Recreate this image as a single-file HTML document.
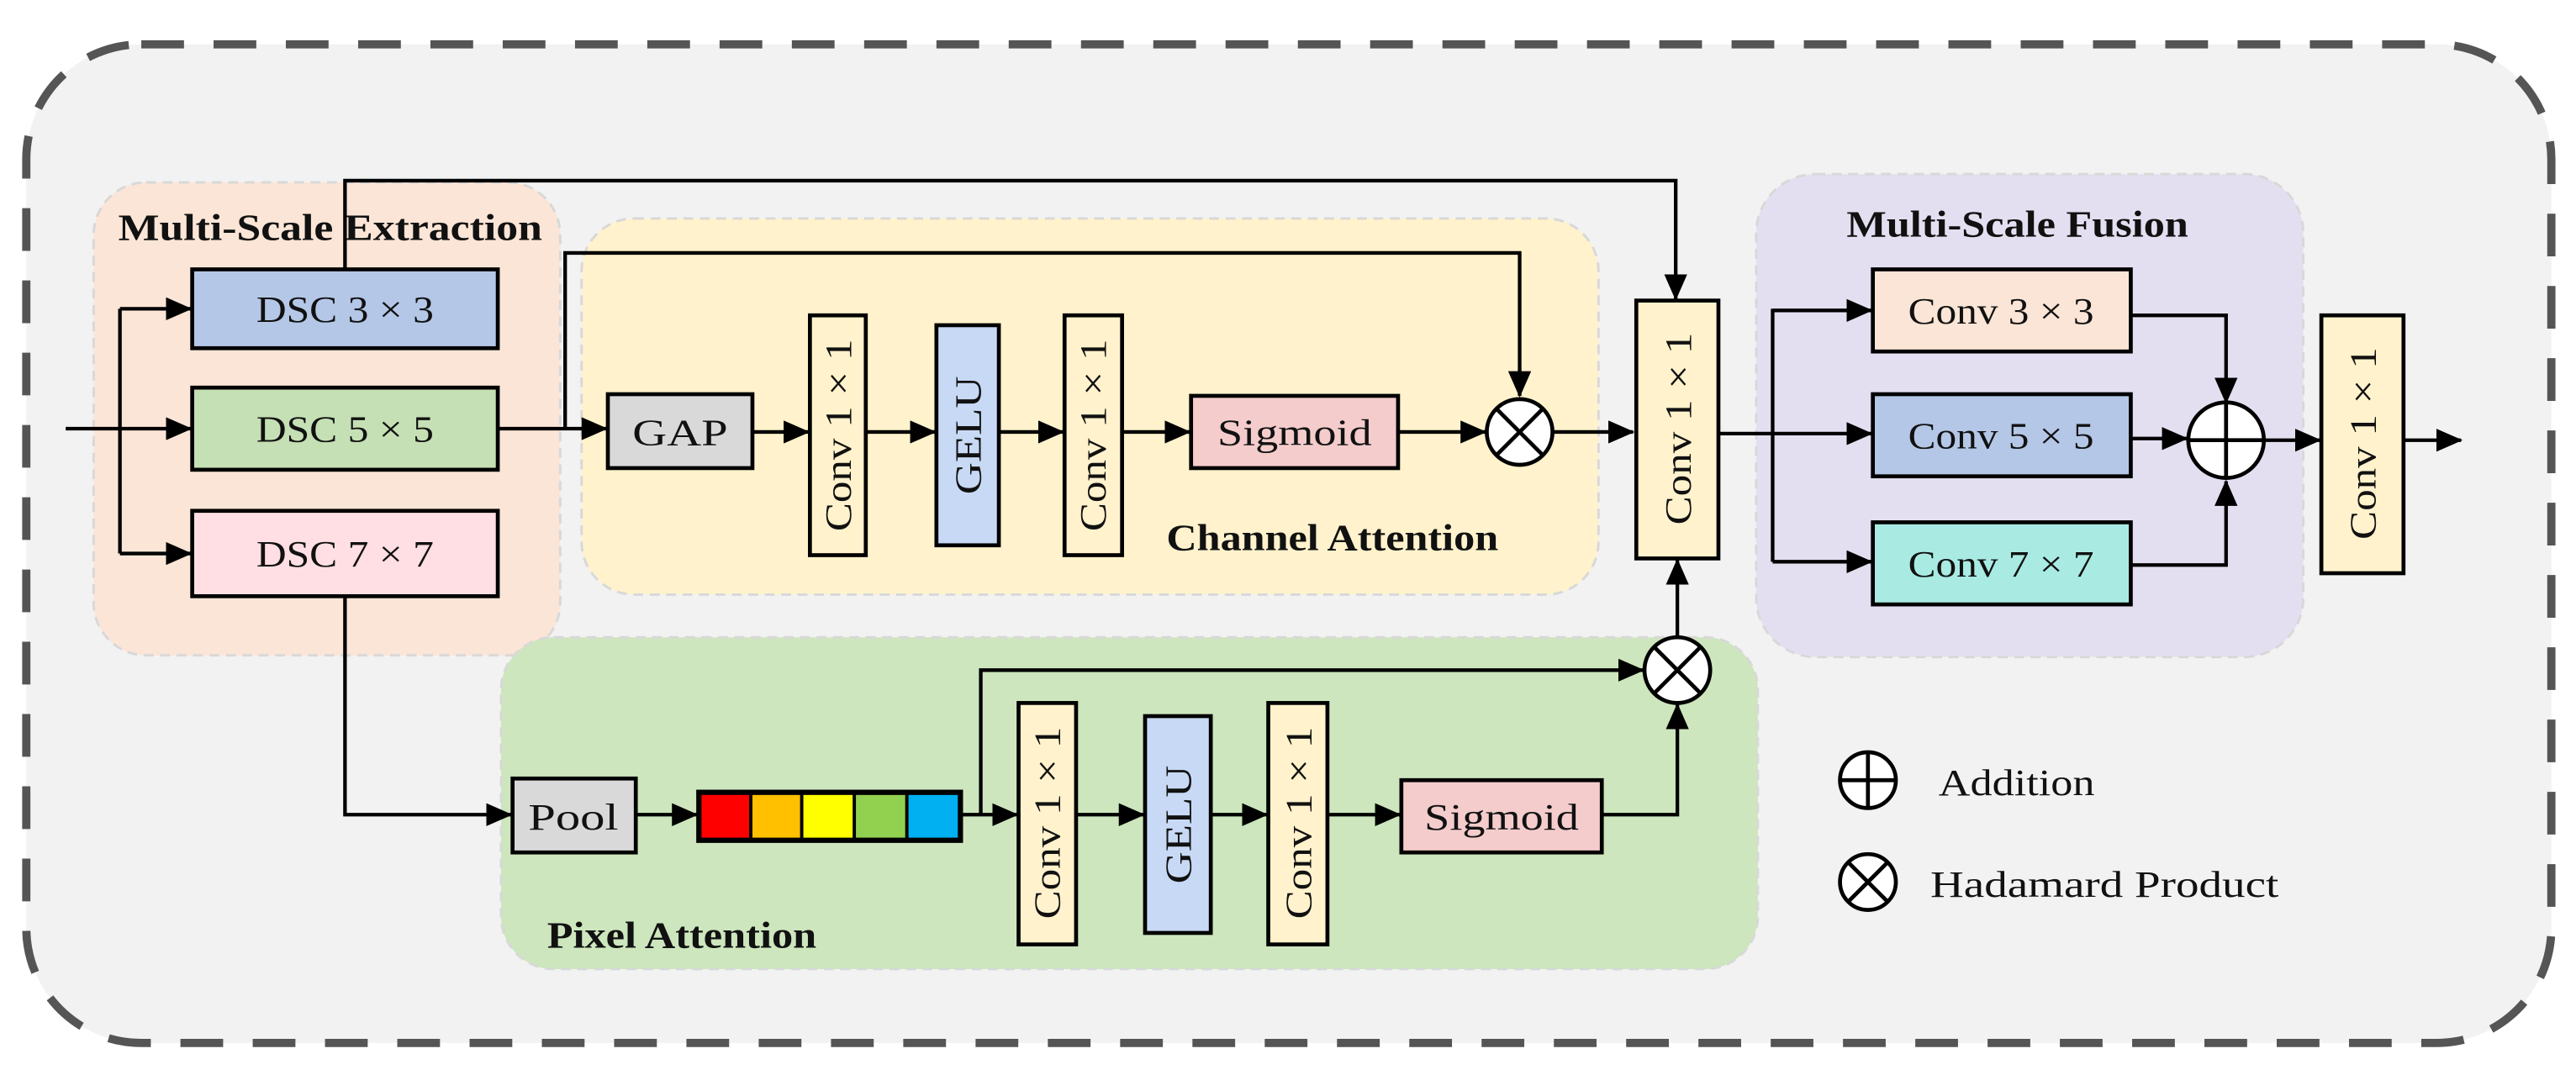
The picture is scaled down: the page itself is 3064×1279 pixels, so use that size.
<!DOCTYPE html>
<html><head><meta charset="utf-8"><style>
html,body{margin:0;padding:0;background:#fff;}
svg{display:block;}
text{font-family:"Liberation Serif","DejaVu Serif",serif;fill:#111;}
.b{font-weight:bold;}
</style></head><body>
<svg width="3064" height="1279" viewBox="0 0 1568 654.5" preserveAspectRatio="none" xmlns="http://www.w3.org/2000/svg">
<defs>
<marker id="a" markerUnits="userSpaceOnUse" markerWidth="16" markerHeight="14" refX="15" refY="7" orient="auto">
<path d="M0,0 L16,7 L0,14 z" fill="#000"/></marker>
</defs>
<rect x="0" y="0" width="1568" height="654.5" fill="#fff"/>
<rect x="16" y="27" width="1537" height="608" rx="70" fill="#f2f2f2" stroke="#555" stroke-width="5" stroke-dasharray="26,18"/>

<rect x="57" y="111" width="284" height="288" rx="32" fill="#fbe5d6" stroke="#d8d8d8" stroke-width="1.5" stroke-dasharray="6,4"/>
<rect x="354" y="133" width="619" height="229" rx="32" fill="#fff2cc" stroke="#d8d8d8" stroke-width="1.5" stroke-dasharray="6,4"/>
<rect x="1069" y="106" width="333" height="294" rx="36" fill="#e4dff0" stroke="#d8d8d8" stroke-width="1.5" stroke-dasharray="6,4"/>
<rect x="305" y="388" width="765" height="202" rx="32" fill="#cde6bd" stroke="#d8d8d8" stroke-width="1.5" stroke-dasharray="6,4"/>

<text x="72" y="146" font-size="23" class="b" textLength="258" lengthAdjust="spacingAndGlyphs">Multi-Scale Extraction</text>
<text x="1124" y="144" font-size="23" class="b" textLength="208" lengthAdjust="spacingAndGlyphs">Multi-Scale Fusion</text>
<text x="710" y="335" font-size="23" class="b" textLength="202" lengthAdjust="spacingAndGlyphs">Channel Attention</text>
<text x="333" y="577" font-size="23" class="b" textLength="164" lengthAdjust="spacingAndGlyphs">Pixel Attention</text>

<g stroke="#000" stroke-width="2.2" fill="none">
<line x1="40" y1="261" x2="116" y2="261" marker-end="url(#a)"/>
<polyline points="73,188 73,337"/>
<line x1="73" y1="188" x2="116" y2="188" marker-end="url(#a)"/>
<line x1="73" y1="337" x2="116" y2="337" marker-end="url(#a)"/>
<polyline points="210,164 210,110 1020,110 1020,182" marker-end="url(#a)"/>
<line x1="303" y1="261" x2="369" y2="261" marker-end="url(#a)"/>
<polyline points="344,261 344,154 925,154 925,241" marker-end="url(#a)"/>
<line x1="458" y1="263" x2="492" y2="263" marker-end="url(#a)"/>
<line x1="527" y1="263" x2="569" y2="263" marker-end="url(#a)"/>
<line x1="608" y1="263" x2="647" y2="263" marker-end="url(#a)"/>
<line x1="683" y1="263" x2="724" y2="263" marker-end="url(#a)"/>
<line x1="851" y1="263" x2="904" y2="263" marker-end="url(#a)"/>
<line x1="945" y1="263" x2="994" y2="263" marker-end="url(#a)"/>
<polyline points="210,363 210,496 311,496" marker-end="url(#a)"/>
<line x1="387" y1="496" x2="424" y2="496" marker-end="url(#a)"/>
<line x1="585" y1="496" x2="619" y2="496" marker-end="url(#a)"/>
<polyline points="597,496 597,408 1000,408" marker-end="url(#a)"/>
<line x1="655" y1="496" x2="696" y2="496" marker-end="url(#a)"/>
<line x1="737" y1="496" x2="771" y2="496" marker-end="url(#a)"/>
<line x1="808" y1="496" x2="852" y2="496" marker-end="url(#a)"/>
<polyline points="975,496 1021,496 1021,429" marker-end="url(#a)"/>
<line x1="1021" y1="388" x2="1021" y2="341" marker-end="url(#a)"/>
<line x1="1046" y1="264" x2="1139" y2="264" marker-end="url(#a)"/>
<polyline points="1079,188 1079,342"/>
<line x1="1079" y1="189" x2="1139" y2="189" marker-end="url(#a)"/>
<line x1="1079" y1="342" x2="1139" y2="342" marker-end="url(#a)"/>
<polyline points="1297,192 1355,192 1355,245" marker-end="url(#a)"/>
<polyline points="1297,344 1355,344 1355,293" marker-end="url(#a)"/>
<line x1="1297" y1="267" x2="1331" y2="267" marker-end="url(#a)"/>
<line x1="1378" y1="268" x2="1412" y2="268" marker-end="url(#a)"/>
<line x1="1463" y1="268" x2="1498" y2="268" marker-end="url(#a)"/>
</g>

<g stroke="#000" stroke-width="2.4">
<rect x="117" y="164" width="186" height="48" fill="#b4c7e7"/>
<rect x="117" y="236" width="186" height="50" fill="#c5e0b4"/>
<rect x="117" y="311" width="186" height="52" fill="#ffdfe3"/>
<rect x="370" y="240" width="88" height="45" fill="#d9d9d9"/>
<rect x="493" y="192" width="34" height="146" fill="#fff2cc"/>
<rect x="570" y="198" width="38" height="134" fill="#c7d9f4"/>
<rect x="648" y="192" width="35" height="146" fill="#fff2cc"/>
<rect x="725" y="241" width="126" height="44" fill="#f4cccc"/>
<rect x="996" y="183" width="50" height="157" fill="#fff2cc"/>
<rect x="1140" y="164" width="157" height="50" fill="#fbe5d6"/>
<rect x="1140" y="240" width="157" height="50" fill="#b4c7e7"/>
<rect x="1140" y="318" width="157" height="50" fill="#a9ebe3"/>
<rect x="1413" y="192" width="50" height="157" fill="#fff2cc"/>
<rect x="312" y="474" width="75" height="45" fill="#d9d9d9"/>
<rect x="620" y="428" width="35" height="147" fill="#fff2cc"/>
<rect x="697" y="436" width="40" height="132" fill="#c7d9f4"/>
<rect x="772" y="428" width="36" height="147" fill="#fff2cc"/>
<rect x="853" y="475" width="122" height="44" fill="#f4cccc"/>
<rect x="425" y="482" width="160" height="30" fill="#000"/>
</g>
<rect x="427" y="484" width="29" height="26" fill="#ff0000"/>
<rect x="458" y="484" width="29" height="26" fill="#ffc000"/>
<rect x="489" y="484" width="30" height="26" fill="#ffff00"/>
<rect x="521" y="484" width="30" height="26" fill="#92d050"/>
<rect x="553" y="484" width="30" height="26" fill="#00b0f0"/>

<g stroke="#000" stroke-width="2.4" fill="#fff">
<circle cx="925" cy="263" r="20"/>
<path d="M911,249 L939,277 M939,249 L911,277"/>
<circle cx="1021" cy="408" r="20"/>
<path d="M1007,394 L1035,422 M1035,394 L1007,422"/>
<circle cx="1355" cy="268" r="23"/>
<path d="M1332,268 L1378,268 M1355,245 L1355,291"/>
<circle cx="1137" cy="475" r="17"/>
<path d="M1120,475 L1154,475 M1137,458 L1137,492"/>
<circle cx="1137" cy="537" r="17"/>
<path d="M1125,525 L1149,549 M1149,525 L1125,549"/>
</g>

<g font-size="23" text-anchor="middle" lengthAdjust="spacingAndGlyphs">
<text x="210" y="196" textLength="108" lengthAdjust="spacingAndGlyphs">DSC 3 × 3</text>
<text x="210" y="269" textLength="108" lengthAdjust="spacingAndGlyphs">DSC 5 × 5</text>
<text x="210" y="345" textLength="108" lengthAdjust="spacingAndGlyphs">DSC 7 × 7</text>
<text x="414" y="271" textLength="58" lengthAdjust="spacingAndGlyphs">GAP</text>
<text x="788" y="271" textLength="94" lengthAdjust="spacingAndGlyphs">Sigmoid</text>
<text x="1218" y="197" textLength="113" lengthAdjust="spacingAndGlyphs">Conv 3 × 3</text>
<text x="1218" y="273" textLength="113" lengthAdjust="spacingAndGlyphs">Conv 5 × 5</text>
<text x="1218" y="351" textLength="113" lengthAdjust="spacingAndGlyphs">Conv 7 × 7</text>
<text x="349" y="505" textLength="55" lengthAdjust="spacingAndGlyphs">Pool</text>
<text x="914" y="505" textLength="94" lengthAdjust="spacingAndGlyphs">Sigmoid</text>
<text transform="translate(518,265) rotate(-90)" textLength="117" lengthAdjust="spacingAndGlyphs">Conv 1 × 1</text>
<text transform="translate(597,265) rotate(-90)" textLength="72" lengthAdjust="spacingAndGlyphs">GELU</text>
<text transform="translate(673,265) rotate(-90)" textLength="117" lengthAdjust="spacingAndGlyphs">Conv 1 × 1</text>
<text transform="translate(1029,261) rotate(-90)" textLength="117" lengthAdjust="spacingAndGlyphs">Conv 1 × 1</text>
<text transform="translate(1446,270) rotate(-90)" textLength="117" lengthAdjust="spacingAndGlyphs">Conv 1 × 1</text>
<text transform="translate(645,501) rotate(-90)" textLength="117" lengthAdjust="spacingAndGlyphs">Conv 1 × 1</text>
<text transform="translate(725,502) rotate(-90)" textLength="72" lengthAdjust="spacingAndGlyphs">GELU</text>
<text transform="translate(798,501) rotate(-90)" textLength="117" lengthAdjust="spacingAndGlyphs">Conv 1 × 1</text>
</g>
<text x="1180" y="484" font-size="23" textLength="95" lengthAdjust="spacingAndGlyphs">Addition</text>
<text x="1175" y="546" font-size="23" textLength="212" lengthAdjust="spacingAndGlyphs">Hadamard Product</text>
</svg>
</body></html>
